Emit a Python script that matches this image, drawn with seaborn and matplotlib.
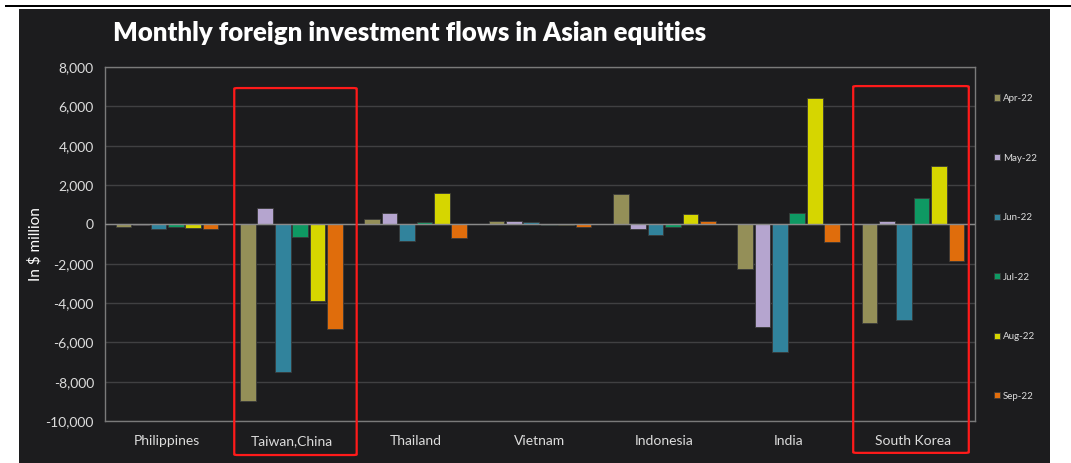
import numpy as np
import pandas as pd
import matplotlib
matplotlib.use("Agg")
import matplotlib.pyplot as plt
import seaborn as sns
from matplotlib.patches import FancyBboxPatch, Rectangle
from matplotlib.ticker import FuncFormatter

countries = ["Philippines", "Taiwan,China", "Thailand", "Vietnam", "Indonesia", "India", "South Korea"]
months = ["Apr-22", "May-22", "Jun-22", "Jul-22", "Aug-22", "Sep-22"]
apr22 = [-120, -8970, 270, 190, 1560, -2260, -5020]
may22 = [-50, 810, 580, 150, -250, -5220, 150]
jun22 = [-250, -7530, -870, 100, -530, -6480, -4850]
jul22 = [-120, -640, 100, -50, -150, 580, 1340]
aug22 = [-170, -3920, 1570, -20, 510, 6430, 2980]
sep22 = [-250, -5330, -700, -150, 190, -920, -1840]
colors = ["#948f58", "#b5a5cf", "#31839c", "#0e9963", "#d6d600", "#e06d0c"]

series = [apr22, may22, jun22, jul22, aug22, sep22]
df = pd.DataFrame(
    [(c, m, v) for m, vals in zip(months, series) for c, v in zip(countries, vals)],
    columns=["country", "month", "value"],
)

sns.set_theme(style="dark")
plt.rcParams["font.family"] = ["Lato", "DejaVu Sans"]

BG = "#1c1c1e"
TXT = "#dcdcdc"

fig = plt.figure(figsize=(10.71, 4.63), dpi=100)
fig.patch.set_facecolor("white")
# dark panel and top rule
fig.add_artist(Rectangle((19 / 1071, 0), (1050 - 19) / 1071, (463 - 9) / 463,
                         transform=fig.transFigure, facecolor=BG, edgecolor="none", zorder=-10))
fig.add_artist(Rectangle((5 / 1071, (463 - 7) / 463), 1 - 5 / 1071, 2.5 / 463,
                         transform=fig.transFigure, facecolor="black", edgecolor="none", zorder=-10))

ax = fig.add_axes([105 / 1071, (463 - 421) / 463, (975 - 105) / 1071, (421 - 67) / 463])
ax.set_facecolor(BG)

sns.barplot(data=df, x="country", y="value", hue="month", order=countries, hue_order=months,
            palette=colors, saturation=1, width=0.84, gap=0.1, ax=ax, edgecolor="#3a3a3a",
            linewidth=0.6, errorbar=None, zorder=3)

ax.set_ylim(-10000, 8000)
ax.set_yticks(np.arange(-10000, 8001, 2000))
ax.yaxis.set_major_formatter(FuncFormatter(lambda v, p: f"{int(v):,}"))
ax.grid(axis="y", color="#404042", linewidth=1, zorder=0)
ax.grid(axis="x", visible=False)
ax.set_axisbelow(True)
ax.axhline(0, color="#8a8a8a", linewidth=1, zorder=4)
for s in ax.spines.values():
    s.set_visible(True)
    s.set_color("#7a7a7a")
    s.set_linewidth(1)
ax.tick_params(axis="both", colors=TXT, labelsize=10, length=0, pad=8)
ax.tick_params(axis="x", pad=10)
ax.set_xlabel("")
ax.set_ylabel("In $ million", color="white", fontsize=11, labelpad=2)
ax.set_xlim(-0.5, 6.5)

# legend
handles, labels = ax.get_legend_handles_labels()
ax.legend(handles, labels, loc="upper left", bbox_to_anchor=(994 / 1071, (463 - 94) / 463),
          bbox_transform=fig.transFigure, frameon=False, fontsize=7, labelcolor=TXT,
          handlelength=0.6, handleheight=0.6, handletextpad=0.3, labelspacing=5.2,
          borderaxespad=0, borderpad=0)

# red highlight boxes
for x0, x1, y0, y1 in [(0.54, 1.525, -11730, 6930), (5.52, 6.45, -11620, 7030)]:
    box = FancyBboxPatch((x0, y0), x1 - x0, y1 - y0, boxstyle="round,pad=0,rounding_size=0.03",
                         transform=ax.transData, facecolor="none", edgecolor="#ff1a1a",
                         linewidth=1.6, clip_on=False, zorder=6,
                         mutation_aspect=(y1 - y0) / (x1 - x0) / 20)
    ax.add_patch(box)

fig.text(113 / 1071, (463 - 33) / 463, "Monthly foreign investment flows in Asian equities",
         color="white", fontsize=18.5, fontweight="heavy", va="center", ha="left",
         family=["Lato", "DejaVu Sans"])

fig.savefig("out.png", dpi=100, facecolor=fig.get_facecolor())
